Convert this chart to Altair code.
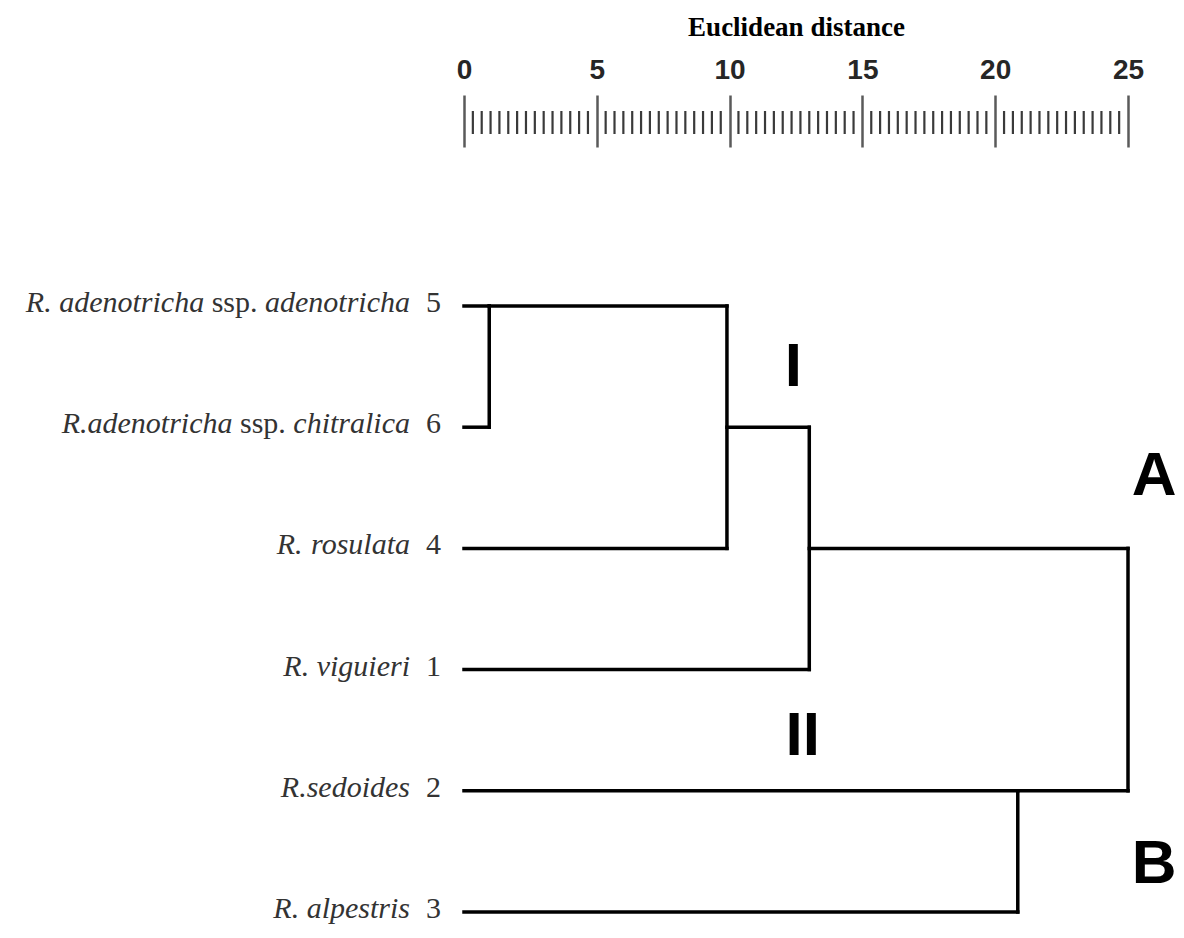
import math
import altair as alt
import pandas as pd

# ---- data -------------------------------------------------------------
# leaves, top to bottom
leaf_names = [
    "R. adenotricha ssp. adenotricha",
    "R.adenotricha ssp. chitralica",
    "R. rosulata",
    "R. viguieri",
    "R.sedoides",
    "R. alpestris",
]
leaf_numbers = ["5", "6", "4", "1", "2", "3"]

# agglomeration steps (children: L# = leaf row, C# = earlier cluster)
merge_left = ["L0", "C0", "C1", "L4", "C2"]
merge_right = ["L1", "L2", "L3", "L5", "C3"]
merge_height = [0.95, 9.9, 13.0, 20.85, 25.0]

# ruler
major_ticks = [0, 5, 10, 15, 20, 25]
minor_ticks = [i / 3 for i in range(0, 76) if i % 15 != 0]

# group annotations
group_labels = ["I", "II", "A", "B"]
group_x = [12.4, 12.75, 25.98, 25.98]
group_y = [0.5, 3.55, 1.4, 4.6]

# ---- layout constants --------------------------------------------------
PLOT_W = 664
PLOT_H = 606
PAD_TOP = 298
X_MAX = 25
PX = PLOT_W / X_MAX          # pixels per distance unit
NAME_FS = 30
NAME_END = -54               # px left of distance 0 where the names end
RULER_SHIFT = PAD_TOP + 8    # page y of the plot top

# Times/Liberation Serif advance widths (1/1000 em)
ITAL = {' ': 250, '.': 250, 'R': 611, 'a': 500, 'c': 444, 'd': 500, 'e': 444,
        'h': 500, 'i': 278, 'l': 278, 'n': 500, 'o': 500, 'p': 500, 'r': 389,
        's': 389, 't': 278, 'u': 500, 'v': 444, 'g': 500}
ROMAN = {' ': 250, '.': 250, 's': 389, 'p': 500}


def tw(s, italic):
    tab = ITAL if italic else ROMAN
    return sum(tab.get(c, 500) for c in s) * NAME_FS / 1000


# ---- build dendrogram segments from the merge table --------------------
pos = {f"L{i}": (i, 0.0) for i in range(len(leaf_names))}
segs = []
for k, (a, b, h) in enumerate(zip(merge_left, merge_right, merge_height)):
    ya, xa = pos[a]
    yb, xb = pos[b]
    segs.append(dict(x=xa, x2=h, y=ya, y2=ya))
    segs.append(dict(x=xb, x2=h, y=yb, y2=yb))
    segs.append(dict(x=h, x2=h, y=ya, y2=yb))
    pos[f"C{k}"] = (math.floor((ya + yb) / 2), h)
seg_df = pd.DataFrame(segs)

# ---- label pieces (species italic, "ssp." upright) ---------------------
pieces = []
for row, name in enumerate(leaf_names):
    toks = name.split(" ")
    right = NAME_END
    for j in range(len(toks) - 1, -1, -1):
        t = toks[j]
        ital = t != "ssp."
        pieces.append(dict(t=t, row=row, xr=right / PX, style="italic" if ital else "normal"))
        right -= tw(t, ital) + tw(" ", True)
piece_df = pd.DataFrame(pieces)

num_df = pd.DataFrame({
    "num": leaf_numbers,
    "row": list(range(len(leaf_names))),
    "x0": [0] * len(leaf_names),
})
minor_df = pd.DataFrame({"v": minor_ticks})
grp_df = pd.DataFrame({"t": group_labels, "x": group_x, "y": group_y})

# ---- scales / axis -----------------------------------------------------
xscale = alt.Scale(domain=[0, X_MAX], nice=False, zero=False)
yscale = alt.Scale(domain=[0, 5], nice=False, zero=False, reverse=True)
xaxis = alt.Axis(
    orient="top",
    values=major_ticks,
    offset=RULER_SHIFT - 147,
    domain=False,
    grid=False,
    tickSize=52,
    tickWidth=2.5,
    tickColor="#5a5a5a",
    labelFont="Liberation Sans",
    labelFontWeight="bold",
    labelFontSize=28,
    labelColor="#262626",
    labelBaseline="alphabetic",
    labelPadding=17,
    labelFlush=False,
    title="Euclidean distance",
    titleFont="Liberation Serif",
    titleFontWeight="bold",
    titleFontSize=27,
    titleColor="#000000",
    titleBaseline="alphabetic",
    titleY=-112,
)

tree = alt.Chart(seg_df).mark_rule(color="#000000", strokeWidth=3.5, strokeCap="square").encode(
    x=alt.X("x:Q", scale=xscale, axis=xaxis),
    x2="x2:Q",
    y=alt.Y("y:Q", scale=yscale, axis=None),
    y2="y2:Q",
)

minor = alt.Chart(minor_df).mark_rule(color="#3a3a3a", strokeWidth=2.2).encode(
    x=alt.X("v:Q", scale=xscale, axis=xaxis),
    y=alt.value(111 - RULER_SHIFT),
    y2=alt.value(134 - RULER_SHIFT),
)

names_it = alt.Chart(piece_df).transform_filter(alt.datum.style == "italic").mark_text(
    align="right", baseline="alphabetic", dy=6,
    font="Liberation Serif", fontStyle="italic", fontSize=NAME_FS, color="#333333",
).encode(
    x=alt.X("xr:Q", scale=xscale, axis=xaxis),
    y=alt.Y("row:Q", scale=yscale, axis=None),
    text="t:N",
)

names_up = alt.Chart(piece_df).transform_filter(alt.datum.style == "normal").mark_text(
    align="right", baseline="alphabetic", dy=6,
    font="Liberation Serif", fontSize=NAME_FS, color="#333333",
).encode(
    x=alt.X("xr:Q", scale=xscale, axis=xaxis),
    y=alt.Y("row:Q", scale=yscale, axis=None),
    text="t:N",
)

nums = alt.Chart(num_df).mark_text(
    align="right", baseline="alphabetic", dx=-23, dy=6,
    font="Liberation Serif", fontSize=NAME_FS, color="#333333",
).encode(
    x=alt.X("x0:Q", scale=xscale, axis=xaxis),
    y=alt.Y("row:Q", scale=yscale, axis=None),
    text="num:N",
)

groups = alt.Chart(grp_df).mark_text(
    align="center", baseline="middle",
    font="Liberation Sans", fontWeight="bold", fontSize=62, color="#000000",
).encode(
    x=alt.X("x:Q", scale=xscale, axis=xaxis),
    y=alt.Y("y:Q", scale=yscale, axis=None),
    text="t:N",
)

chart = alt.layer(tree, minor, names_it, names_up, nums, groups).properties(
    width=PLOT_W,
    height=PLOT_H,
    background="white",
    autosize=alt.AutoSizeParams(type="none"),
    padding={"left": 456, "top": PAD_TOP, "right": 48, "bottom": 14},
).configure_view(strokeWidth=0, stroke="transparent")

chart.save("out.html", embed_options={"renderer": "svg", "actions": False})
